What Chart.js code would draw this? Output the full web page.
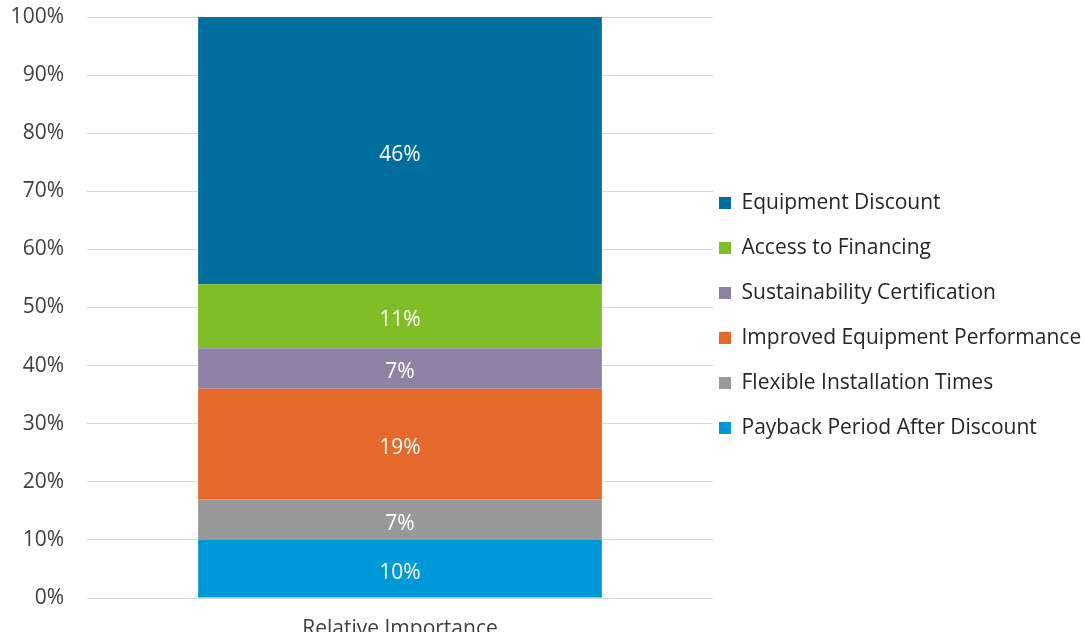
<!DOCTYPE html>
<html>
<head>
<meta charset="utf-8">
<script src="https://cdn.jsdelivr.net/npm/chart.js@4/dist/chart.umd.min.js"></script>
<style>
  html, body { margin: 0; padding: 0; background: #ffffff; overflow: hidden; }
</style>
</head>
<body>
<canvas id="chart" width="1085" height="644"></canvas>
<script>
// Share of relative importance by factor (stacked bottom to top)
const categories = ['Relative Importance'];
const seriesNames = [
  'Payback Period After Discount',
  'Flexible Installation Times',
  'Improved Equipment Performance',
  'Sustainability Certification',
  'Access to Financing',
  'Equipment Discount'
];
const paybackPeriod = [10];
const flexibleInstallation = [7];
const improvedPerformance = [19];
const sustainabilityCert = [7];
const accessFinancing = [11];
const equipmentDiscount = [46];
const yTicks = [0, 10, 20, 30, 40, 50, 60, 70, 80, 90, 100];

const seriesValues = [paybackPeriod, flexibleInstallation, improvedPerformance,
  sustainabilityCert, accessFinancing, equipmentDiscount];
const seriesColors = ['#0099d7', '#999999', '#e5692a', '#8e83a5', '#80be28', '#006f9e'];

const FONT = '"Open Sans", Lato, sans-serif';

// Writes each segment's value in the middle of its bar piece
const segmentLabels = {
  id: 'segmentLabels',
  afterDatasetsDraw(chart) {
    const ctx = chart.ctx;
    ctx.save();
    ctx.fillStyle = '#ffffff';
    ctx.font = '21px ' + FONT;
    ctx.textAlign = 'center';
    ctx.textBaseline = 'middle';
    chart.data.datasets.forEach((ds, i) => {
      const meta = chart.getDatasetMeta(i);
      if (meta.hidden) return;
      meta.data.forEach((bar, j) => {
        const v = ds.data[j];
        // small nudge so the digits sit visually centred
        ctx.fillText(v + '%', bar.x, (bar.y + bar.base) / 2 + 4);
      });
    });
    ctx.restore();
  }
};

new Chart(document.getElementById('chart'), {
  type: 'bar',
  data: {
    labels: categories,
    datasets: seriesNames.map((name, i) => ({
      label: name,
      data: seriesValues[i],
      backgroundColor: seriesColors[i],
      borderWidth: 0,
      barPercentage: 0.645,
      categoryPercentage: 1
    }))
  },
  options: {
    responsive: false,
    animation: false,
    layout: { padding: { top: 17, right: 0, bottom: 12, left: 0 } },
    plugins: {
      tooltip: { enabled: false },
      legend: {
        position: 'right',
        reverse: true,
        maxWidth: 372,
        labels: {
          boxWidth: 12,
          boxHeight: 12,
          padding: 6,
          color: '#262626',
          font: { family: FONT, size: 21, lineHeight: '39px' },
          // one-line arrays give each entry a taller row
          generateLabels(chart) {
            const items = Chart.defaults.plugins.legend.labels.generateLabels(chart);
            items.forEach(it => { it.text = [it.text]; });
            return items;
          }
        }
      }
    },
    scales: {
      x: {
        stacked: true,
        grid: { display: false, drawTicks: false },
        border: { display: false },
        ticks: { color: '#404040', font: { family: FONT, size: 21 }, padding: 18 },
        afterFit(axis) { axis.height = 34; }
      },
      y: {
        stacked: true,
        min: 0,
        max: 100,
        afterBuildTicks(axis) { axis.ticks = yTicks.map(v => ({ value: v })); },
        grid: { color: '#d9d9d9', lineWidth: 1, drawTicks: true, tickLength: 23, tickColor: 'rgba(0,0,0,0)' },
        border: { display: false },
        ticks: {
          color: '#404040',
          font: { family: FONT, size: 21 },
          padding: 0,
          callback: v => v + '%'
        },
        afterFit(axis) { axis.width = 87; }
      }
    }
  },
  plugins: [segmentLabels]
});
</script>
</body>
</html>
